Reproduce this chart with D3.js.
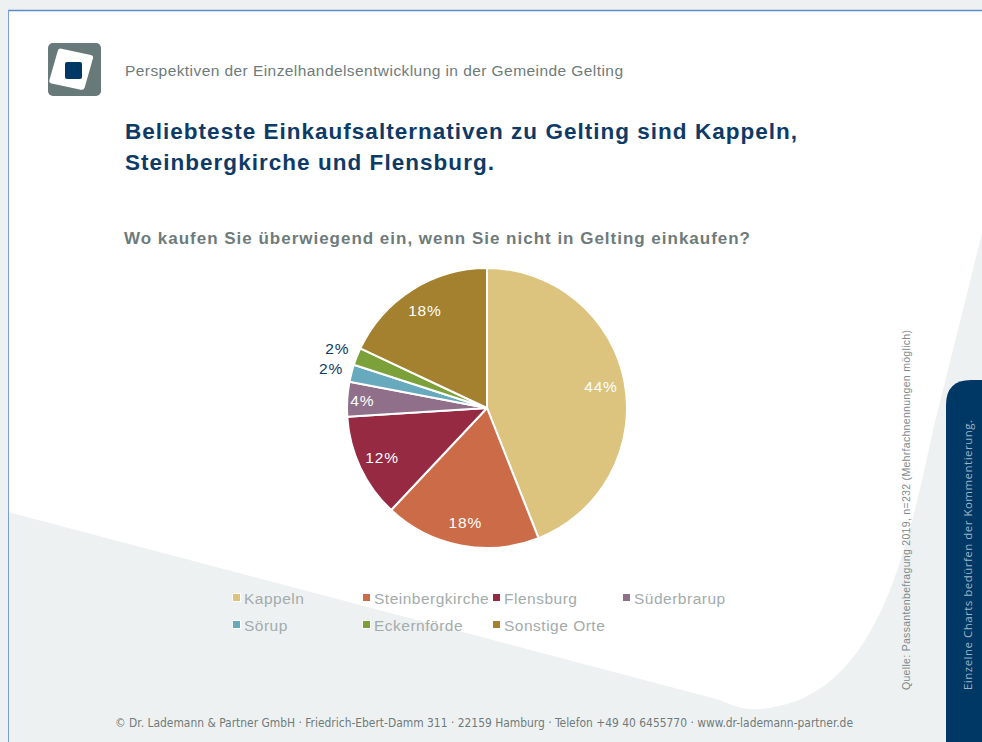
<!DOCTYPE html>
<html><head><meta charset="utf-8">
<script src="https://cdn.jsdelivr.net/npm/d3@7"></script>
<style>html,body{margin:0;padding:0;background:#fff;}svg{display:block;}</style>
</head><body>
<svg id="c" width="982" height="742"></svg>
<script>
const categories = ["Kappeln","Steinbergkirche","Flensburg","Süderbrarup","Sörup","Eckernförde","Sonstige Orte"];
const values = [44,18,12,4,2,2,18];
const colors = ["#dcc47f","#cc6b48","#962a43","#8f6f8a","#67a9bd","#7da13a","#a3812e"];
const labels = ["44%","18%","12%","4%","2%","2%","18%"];

const svg = d3.select("#c");
const F = "'Liberation Sans', Arial, sans-serif";

// background
svg.append("rect").attr("width",982).attr("height",742).attr("fill","#eef1f2");
svg.append("path").attr("fill","#fff")
  .attr("d","M8 10 L982 10 L982 233 L933 430 C905 560, 875 700, 760 709 C745 710, 735 707, 720 700 L8 512 Z");
// frame lines
svg.append("line").attr("x1",8).attr("x2",982).attr("y1",10.5).attr("y2",10.5).attr("stroke","#5b8ac6").attr("stroke-width",1.5);
svg.append("line").attr("x1",8.5).attr("x2",8.5).attr("y1",10).attr("y2",742).attr("stroke","#7a9fd4").attr("stroke-width",1);

// logo
svg.append("rect").attr("x",48).attr("y",43).attr("width",53).attr("height",53).attr("rx",5).attr("fill","#68797a");
svg.append("rect").attr("x",58).attr("y",52).attr("width",36).attr("height",36).attr("rx",3).attr("fill","#fff")
  .attr("transform","rotate(12,75,70) skewX(-4)");
svg.append("rect").attr("x",65).attr("y",62).attr("width",17).attr("height",17).attr("rx",2).attr("fill","#003865");

// header texts
svg.append("text").attr("x",125).attr("y",76).attr("font-family",F).attr("font-size",15.5).attr("fill","#6e7b7b")
  .attr("textLength",498).attr("lengthAdjust","spacing")
  .text("Perspektiven der Einzelhandelsentwicklung in der Gemeinde Gelting");
svg.append("text").attr("x",125).attr("y",139).attr("font-family",F).attr("font-size",22.5).attr("font-weight","bold").attr("fill","#0d3a66")
  .attr("textLength",672).attr("lengthAdjust","spacing")
  .text("Beliebteste Einkaufsalternativen zu Gelting sind Kappeln,");
svg.append("text").attr("x",125).attr("y",170).attr("font-family",F).attr("font-size",22.5).attr("font-weight","bold").attr("fill","#0d3a66")
  .attr("textLength",369).attr("lengthAdjust","spacing")
  .text("Steinbergkirche und Flensburg.");
svg.append("text").attr("x",124).attr("y",244).attr("font-family",F).attr("font-size",17).attr("font-weight","bold").attr("fill","#6e7b7b")
  .attr("textLength",626).attr("lengthAdjust","spacing")
  .text("Wo kaufen Sie überwiegend ein, wenn Sie nicht in Gelting einkaufen?");

// pie
const cx=487, cy=408, R=140;
const data = categories.map((c,i)=>({c, v:values[i], col:colors[i], lab:labels[i]}));
const pie = d3.pie().value(d=>d.v).sort(null);
const arcs = pie(data);
const arc = d3.arc().innerRadius(0).outerRadius(R);
const g = svg.append("g").attr("transform",`translate(${cx},${cy})`);
g.selectAll("path").data(arcs).join("path").attr("d",arc).attr("fill",d=>d.data.col)
  .attr("stroke","#fff").attr("stroke-width",2).attr("stroke-linejoin","round");
const inArc = d3.arc().innerRadius(116).outerRadius(116);
const outArc = d3.arc().innerRadius(161).outerRadius(161);
const midArc = d3.arc().innerRadius(125).outerRadius(125);
g.selectAll("text.l").data(arcs).join("text").attr("class","l")
  .attr("transform",d=>{
    const a = d.data.v < 3 ? outArc : (d.data.v < 8 ? midArc : inArc);
    const p = a.centroid(d);
    return `translate(${p[0]},${p[1]})`;
  })
  .attr("text-anchor","middle").attr("dy","0.36em")
  .attr("font-family",F).attr("font-size",15.5).attr("letter-spacing",0.8)
  .attr("fill",d=>d.data.v<3?"#0d3a66":"#fff")
  .text(d=>d.data.lab);

// legend
const colX=[233,363,493,623], rowY=[598,625];
const lg = svg.append("g");
data.forEach((d,i)=>{
  const x = colX[i<4?i:i-4], y = rowY[i<4?0:1];
  lg.append("rect").attr("x",x-1).attr("y",y-5).attr("width",9).attr("height",9).attr("fill","#fff");
  lg.append("rect").attr("x",x).attr("y",y-4).attr("width",7).attr("height",7).attr("fill",d.col);
  lg.append("text").attr("x",x+11).attr("y",y+5.5).attr("font-family",F).attr("font-size",15.5).attr("letter-spacing",0.5)
    .attr("fill","#a2acab").text(d.c);
});

// source text
svg.append("text").attr("transform","translate(910,690) rotate(-90)").attr("font-family",F).attr("font-size",10.5)
  .attr("fill","#7f8a8a").attr("textLength",360).attr("lengthAdjust","spacing")
  .text("Quelle:  Passantenbefragung 2019, n=232 (Mehrfachnennungen möglich)");

// sidebar
svg.append("path").attr("fill","#003865")
  .attr("d","M946 742 L946 405 Q946 380 971 380 L982 380 L982 742 Z");
svg.append("text").attr("transform","translate(972,690) rotate(-90)").attr("font-family","'Open Sans', sans-serif").attr("font-size",11.5)
  .attr("fill","#9fb3c8").attr("textLength",270).attr("lengthAdjust","spacing")
  .text("Einzelne Charts bedürfen der Kommentierung.");

// footer
svg.append("text").attr("x",115).attr("y",727).attr("font-family","'Liberation Sans Narrow','DejaVu Sans Condensed',sans-serif").attr("font-size",13)
  .attr("fill","#6e7b7b").attr("textLength",738).attr("lengthAdjust","spacingAndGlyphs")
  .text("© Dr. Lademann & Partner GmbH · Friedrich-Ebert-Damm 311 · 22159 Hamburg · Telefon +49 40 6455770 · www.dr-lademann-partner.de");
</script>
</body></html>
